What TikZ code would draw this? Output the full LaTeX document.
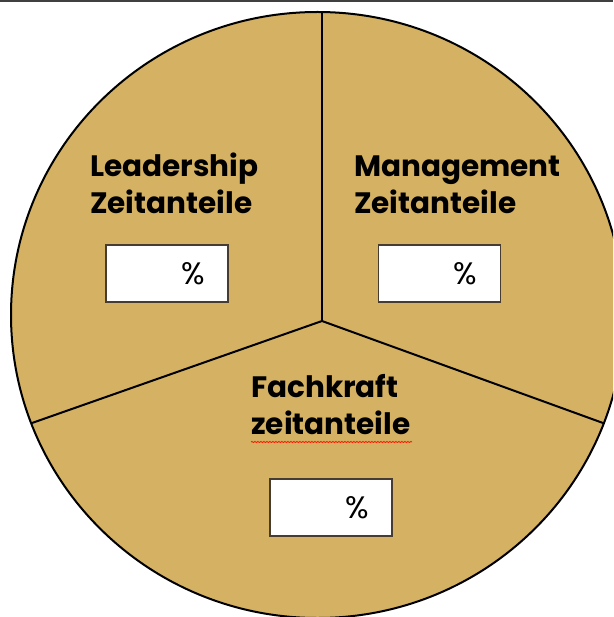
\documentclass[tikz,border=0pt]{standalone}
\usepackage{fontspec}
\setmainfont{Poppins}
\usetikzlibrary{positioning,decorations.pathmorphing}
\definecolor{sand}{RGB}{213,178,99}
\definecolor{boxline}{RGB}{72,60,48}
\newcommand{\rimw}{2pt}
\newcommand{\pctshift}{26pt}

\begin{document}
\begin{tikzpicture}[x=1pt,y=-1pt]
            \tikzset{
                label/.style = {inner sep=0pt, anchor=base west, align=left,
                    font=\bfseries\fontsize{29.5}{37}\selectfont},
                pctbox/.style = {draw=boxline, fill=white, line width=1.4pt,
                    minimum width=122pt, minimum height=57pt, inner sep=0pt},
                pct/.style = {inner sep=0pt, font=\fontsize{31}{34}\selectfont}
            }
            \useasboundingbox (0,0) rectangle (613,617);
            \clip (0,0) rectangle (613,617);
            \fill[white] (0,0) rectangle (613,617);
            \draw[black!75, line width=2pt] (0,1) -- (613,1);
            % the disc and its three parts
            \filldraw[fill=sand, draw=black, line width=\rimw]
                (317.5,315) ellipse [x radius=306.5pt, y radius=303pt];
            \coordinate (m) at (322,321);
            \coordinate (top) at (322,12);
            \coordinate (left) at (32,423);
            \coordinate (right) at (603,423);
            \draw[line width=\rimw] (m) -- (top);
            \draw[line width=\rimw] (m) -- (left);
            \draw[line width=\rimw] (m) -- (right);
            
            % base anchor sits on the second line
            \node[label] (lead) at (90,214) {Leadership\\Zeitanteile};
            \node[label] (mgmt) at (354,214) {Management\\Zeitanteile};
            \node[label] (fach) at (251,434) {Fachkraft\\zeitanteile};
            
            \node[pctbox] (leadbox) at (167,273.5) {};
            \node[pctbox] (mgmtbox) at (439.5,273.5) {};
            \node[pctbox] (fachbox) at (331,507.5) {};
            \node[pct] (leadpct) at ([xshift=\pctshift]leadbox.center) {\%};
            \node[pct] (mgmtpct) at ([xshift=\pctshift]mgmtbox.center) {\%};
            \node[pct] (fachpct) at ([xshift=\pctshift]fachbox.center) {\%};
            
            \coordinate (sp1) at (251,442);
            \coordinate (sp2) at (412,442);
            \draw[red!80!orange, line width=0.8pt,
                decoration={snake, amplitude=0.6pt, segment length=3pt},
                decorate] (sp1) -- (sp2);
        \end{tikzpicture}
\end{document}
